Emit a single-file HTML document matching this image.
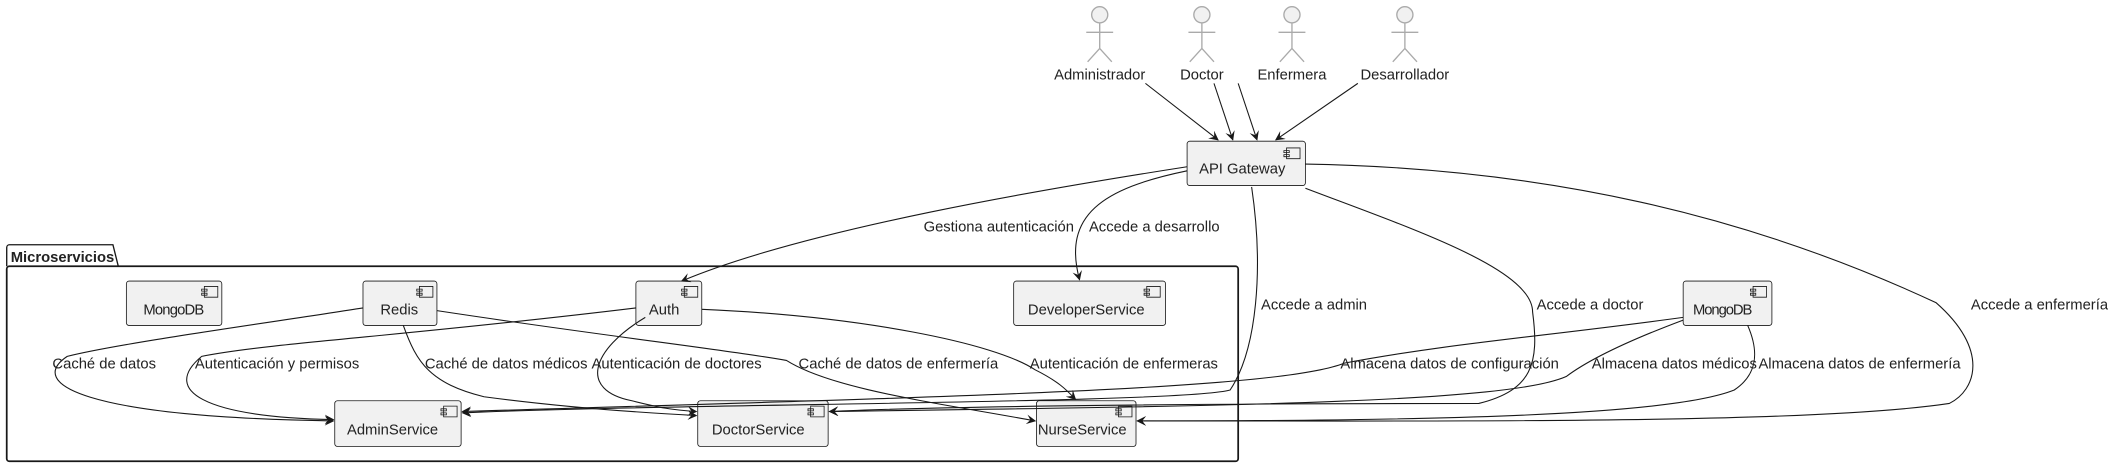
<!DOCTYPE html>
<html><head><meta charset="utf-8"><style>
html,body{margin:0;padding:0;background:#fff;}
svg{display:block;}
text{font-family:"Liberation Sans",sans-serif;font-size:11px;fill:#222;}
.b{fill:#f1f1f1;stroke:#181818;stroke-width:0.6;}
.e{fill:none;stroke:#181818;stroke-width:0.8;}
.act{fill:none;stroke:#aaa;stroke-width:1;}
</style></head><body>
<svg width="2108" height="468" viewBox="0 0 1568 348" preserveAspectRatio="none">
<defs><marker id="m" viewBox="0 0 10 10" refX="9" refY="5" markerWidth="9" markerHeight="9" orient="auto-start-reverse"><path d="M0,0 L10,5 L0,10 L4,5 z" fill="#181818"/></marker></defs>

<g class="act">
<circle cx="818" cy="11" r="6" fill="#f1f1f1"/><path d="M818 17 V36 M808 24 H828 M818 36 L809 46 M818 36 L827 46"/>
<circle cx="894" cy="11" r="6" fill="#f1f1f1"/><path d="M894 17 V36 M884 24 H904 M894 36 L885 46 M894 36 L903 46"/>
<circle cx="961" cy="11" r="6" fill="#f1f1f1"/><path d="M961 17 V36 M951 24 H971 M961 36 L952 46 M961 36 L970 46"/>
<circle cx="1045" cy="11" r="6" fill="#f1f1f1"/><path d="M1045 17 V36 M1035 24 H1055 M1045 36 L1036 46 M1045 36 L1054 46"/>
</g>
<text x="818" y="59" text-anchor="middle">Administrador</text>
<text x="894" y="59" text-anchor="middle">Doctor</text>
<text x="961" y="59" text-anchor="middle">Enfermera</text>
<text x="1045" y="59" text-anchor="middle">Desarrollador</text>

<path d="M5,198 V184 a2,2 0 0 1 2,-2 H84 L88,198" fill="none" stroke="#181818" stroke-width="1"/>
<rect x="5" y="198" width="916" height="145" rx="2" fill="none" stroke="#181818" stroke-width="1.3"/>
<text x="8" y="195" font-weight="bold">Microservicios</text>

<g>
<rect class="b" x="883" y="105" width="88" height="33" rx="2"/><text x="924" y="129" text-anchor="middle">API Gateway</text>
<rect class="b" x="94" y="209" width="71" height="33" rx="2"/><text x="129" y="234" text-anchor="middle" letter-spacing="-0.6">MongoDB</text>
<rect class="b" x="270" y="209" width="55" height="33" rx="2"/><text x="297" y="234" text-anchor="middle">Redis</text>
<rect class="b" x="473" y="209" width="49" height="33" rx="2"/><text x="494" y="234" text-anchor="middle">Auth</text>
<rect class="b" x="754" y="209" width="113" height="33" rx="2"/><text x="808" y="234" text-anchor="middle">DeveloperService</text>
<rect class="b" x="249" y="298" width="94" height="34" rx="2"/><text x="292" y="323" text-anchor="middle">AdminService</text>
<rect class="b" x="519" y="298" width="97" height="34" rx="2"/><text x="564" y="323" text-anchor="middle">DoctorService</text>
<rect class="b" x="771" y="298" width="74" height="34" rx="2"/><text x="805" y="323" text-anchor="middle">NurseService</text>
<rect class="b" x="1252" y="209" width="66" height="33" rx="2"/><text x="1281" y="234" text-anchor="middle" letter-spacing="-0.8">MongoDB</text>
</g>
<g fill="#f1f1f1" stroke="#181818" stroke-width="0.6">
<path d="M957 110h10v8h-10z M955 112h4v1.5h-4z M955 115h4v1.5h-4z"/>
<path d="M152 213h10v8h-10z M150 215h4v1.5h-4z M150 218h4v1.5h-4z"/>
<path d="M312 213h10v8h-10z M310 215h4v1.5h-4z M310 218h4v1.5h-4z"/>
<path d="M509 213h10v8h-10z M507 215h4v1.5h-4z M507 218h4v1.5h-4z"/>
<path d="M853 213h10v8h-10z M851 215h4v1.5h-4z M851 218h4v1.5h-4z"/>
<path d="M330 302h10v8h-10z M328 304h4v1.5h-4z M328 307h4v1.5h-4z"/>
<path d="M603 302h10v8h-10z M601 304h4v1.5h-4z M601 307h4v1.5h-4z"/>
<path d="M832 302h10v8h-10z M830 304h4v1.5h-4z M830 307h4v1.5h-4z"/>
<path d="M1304 213h10v8h-10z M1302 215h4v1.5h-4z M1302 218h4v1.5h-4z"/>
</g>

<g class="e" marker-end="url(#m)">
<path d="M852 62 L906 104"/>
<path d="M903 62 L917 104"/>
<path d="M921 62 L935 104"/>
<path d="M1010 62 L949 104"/>
<path d="M883 124 C780 140 600 170 507 209"/>
<path d="M883 127 C820 140 790 160 803 208"/>
<path d="M931 139 C940 200 935 260 915 290 C880 300 500 300 344 307"/>
<path d="M971 140 C1050 170 1140 200 1140 232 C1145 270 1140 290 1100 300 C900 300 700 302 617 306"/>
<path d="M971 122 C1150 125 1300 160 1440 225 C1480 260 1470 290 1450 300 C1350 315 1100 313 846 313"/>
<path d="M270 229 C200 240 90 255 50 265 C20 285 60 310 248 313"/>
<path d="M473 229 C300 250 200 255 150 265 C120 290 150 310 248 312"/>
<path d="M300 242 C310 270 320 285 360 295 C420 303 480 307 518 309"/>
<path d="M325 231 C450 250 540 260 585 268 C620 290 700 300 770 313"/>
<path d="M480 236 C440 260 430 290 470 298 C490 303 500 305 518 306"/>
<path d="M522 230 C640 235 740 255 770 275 C790 285 795 292 800 297"/>
<path d="M1252 236 C1150 250 1080 255 1000 270 C950 290 700 295 344 306"/>
<path d="M1252 238 C1220 250 1185 265 1165 280 C1120 300 900 302 617 306"/>
<path d="M1300 242 C1310 265 1305 280 1290 290 C1240 310 1050 313 846 313"/>
</g>

<text x="687" y="172">Gestiona autenticación</text>
<text x="810" y="172">Accede a desarrollo</text>
<text x="938" y="230">Accede a admin</text>
<text x="1143" y="230">Accede a doctor</text>
<text x="1466" y="230">Accede a enfermería</text>
<text x="39" y="274">Caché de datos</text>
<text x="145" y="274">Autenticación y permisos</text>
<text x="316" y="274">Caché de datos médicos</text>
<text x="440" y="274">Autenticación de doctores</text>
<text x="594" y="274">Caché de datos de enfermería</text>
<text x="766" y="274">Autenticación de enfermeras</text>
<text x="997" y="274">Almacena datos de configuración</text>
<text x="1184" y="274">Almacena datos médicos</text>
<text x="1308" y="274">Almacena datos de enfermería</text>
</svg>
</body></html>
